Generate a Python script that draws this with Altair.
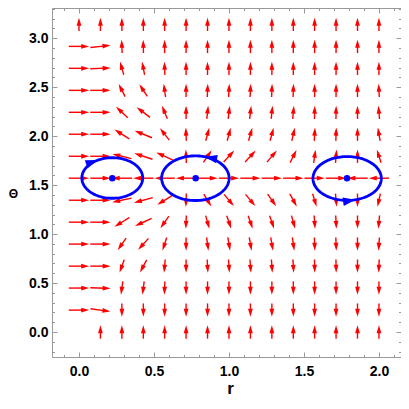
import math
import altair as alt
import pandas as pd

# ---------------- data ----------------
R_GRID = [0.0, 0.143, 0.286, 0.429, 0.571, 0.714, 0.857, 1.0,
          1.143, 1.286, 1.429, 1.571, 1.714, 1.857, 2.0]
THETA_GRID = [0.0, 0.224, 0.449, 0.673, 0.898, 1.122, 1.346, 1.571,
              1.795, 2.020, 2.244, 2.468, 2.693, 2.917, 3.142]

# on-screen arrow direction (degrees, counter-clockwise from +r), row by row from theta=0 upward
N = None
ROW_00 = [N, 90, 90, 90, 90, 90, 90, 90, 90, 90, 90, 90, 90, 90, 90]
ROW_01 = [0, 352, 270, 270, 270, 270, 270, 270, 270, 270, 270, 270, 270, 270, 270]
ROW_02 = [0, 358, 262, 263, 268, 270, 270, 270, 270, 270, 270, 270, 270, 270, 270]
ROW_03 = [0, 0, 250, 242, 265, 270, 273, 274, 274, 274, 273, 271, 271, 270, 268]
ROW_04 = [0, 0, 235, 228, 252, 270, 278, 280, 280, 280, 278, 272, 272, 270, 266]
ROW_05 = [0, 0, 212, 205, 235, 268, 286, 289, 289, 289, 286, 274, 273, 270, 265]
ROW_06 = [0, 0, 192, 195, 212, 268, 301, 310, 310, 305, 299, 287, 275, 270, 258]
ROW_07 = [0, 0, 180, 180, 180, 180, 0, 0, 0, 0, 0, 0, 0, 180, 180]
ROW_08 = [0, 0, 166, 162, 155, 92, 56, 47, 47, 50, 63, 82, 85, 90, 108]
ROW_09 = [0, 0, 148, 158, 128, 92, 75, 75, 74, 75, 77, 87, 88, 90, 100]
ROW_10 = [0, 0, 137, 143, 113, 90, 84, 83, 83, 84, 85, 89, 89, 90, 95]
ROW_11 = [0, 0, 117, 123, 98, 90, 88, 87, 87, 88, 88, 90, 90, 90, 93]
ROW_12 = [0, 2, 106, 101, 92, 90, 90, 90, 90, 90, 90, 90, 90, 90, 90]
ROW_13 = [0, 6, 92, 91, 90, 90, 90, 90, 90, 90, 90, 90, 90, 90, 90]
ROW_14 = [90, 90, 90, 90, 90, 90, 90, 90, 90, 90, 90, 90, 90, 90, 90]
ANGLE_ROWS = [ROW_00, ROW_01, ROW_02, ROW_03, ROW_04, ROW_05, ROW_06, ROW_07,
              ROW_08, ROW_09, ROW_10, ROW_11, ROW_12, ROW_13, ROW_14]

# closed orbits (blue)
ORBIT_R = [0.222, 0.776, 1.788]
ORBIT_THETA = [1.573, 1.571, 1.568]
ORBIT_RX = [0.203, 0.225, 0.228]
ORBIT_RY = [0.207, 0.228, 0.224]
ORBIT_HEAD_T = [118, 74, 284]          # parametric position of arrowhead (deg)
ORBIT_DIR = [-1, 1, 1]                  # -1 clockwise, +1 counter-clockwise
FIXED_R = [0.222, 0.778, 1.787]
FIXED_THETA = [1.571, 1.571, 1.571]

X_TICKS = [0.0, 0.5, 1.0, 1.5, 2.0]
Y_TICKS = [0.0, 0.5, 1.0, 1.5, 2.0, 2.5, 3.0]
X_MINOR = [-0.1, 0.1, 0.2, 0.3, 0.4, 0.6, 0.7, 0.8, 0.9, 1.1, 1.2, 1.3, 1.4,
           1.6, 1.7, 1.8, 1.9, 2.1]
Y_MINOR = [-0.2, -0.1, 0.1, 0.2, 0.3, 0.4, 0.6, 0.7, 0.8, 0.9, 1.1, 1.2, 1.3,
           1.4, 1.6, 1.7, 1.8, 1.9, 2.1, 2.2, 2.3, 2.4, 2.6, 2.7, 2.8, 2.9,
           3.1, 3.2, 3.3]

# ---------------- layout ----------------
W, H = 349, 349
X_DOM = [-0.18, 2.147]
Y_DOM = [-0.255, 3.309]
KX = W / (X_DOM[1] - X_DOM[0])
KY = H / (Y_DOM[1] - Y_DOM[0])
ARROW_LEN = 0.136      # arrow length in data units
HEAD_PX = 8.0
ORBIT_HEAD_PX = 12.5

RED = "#ff0000"
BLUE = "#0000ff"
GRAY = "#999999"
FONT = "Liberation Sans"

xs = alt.Scale(domain=X_DOM, nice=False, zero=False)
ys = alt.Scale(domain=Y_DOM, nice=False, zero=False)

# ---------------- arrow geometry ----------------
rows = []
for j, th in enumerate(THETA_GRID):
    for i, r in enumerate(R_GRID):
        a = ANGLE_ROWS[j][i]
        if a is None:
            continue
        ca, sa = math.cos(math.radians(a)), math.sin(math.radians(a))
        ux, uy = ca / KX, sa / KY
        n = math.hypot(ux, uy)
        vx, vy = ARROW_LEN * ux / n, ARROW_LEN * uy / n
        tipx, tipy = r + vx / 2, th + vy / 2
        rows.append(dict(
            r=r, t=th,
            x0=r - vx / 2, y0=th - vy / 2,
            x1=tipx - 0.6 * HEAD_PX * ca / KX, y1=tipy - 0.6 * HEAD_PX * sa / KY,
            hx=tipx, hy=tipy, ang=(360 - a) % 360,
        ))
arrows = pd.DataFrame(rows)

ell = []
for e in range(3):
    for k in range(0, 361, 3):
        tt = math.radians(k)
        ell.append(dict(e=e, k=k,
                        x=ORBIT_R[e] + ORBIT_RX[e] * math.cos(tt),
                        y=ORBIT_THETA[e] + ORBIT_RY[e] * math.sin(tt)))
ellipses = pd.DataFrame(ell)

heads = []
for e in range(3):
    tt = math.radians(ORBIT_HEAD_T[e])
    px = ORBIT_R[e] + ORBIT_RX[e] * math.cos(tt)
    py = ORBIT_THETA[e] + ORBIT_RY[e] * math.sin(tt)
    dx = -ORBIT_RX[e] * math.sin(tt) * KX * ORBIT_DIR[e]
    dy = ORBIT_RY[e] * math.cos(tt) * KY * ORBIT_DIR[e]
    a = math.degrees(math.atan2(dy, dx))
    heads.append(dict(x=px, y=py, ang=(360 - a) % 360))
orbit_heads = pd.DataFrame(heads)

fixed = pd.DataFrame({"x": FIXED_R, "y": FIXED_THETA})

# ---------------- axes (frame with inward ticks) ----------------
def ax(orient, values, size, labels, title=None, **kw):
    d = dict(orient=orient, values=values, tickSize=size, offset=-size,
             domain=False, grid=False, labels=labels, tickColor=GRAY,
             tickWidth=1, labelFlush=False, labelOverlap=False)
    if labels:
        d.update(format=".1f", labelFont=FONT, labelFontSize=14,
                 labelFontWeight="bold", labelColor="black")
    if title is None:
        d["title"] = None
    else:
        d["title"] = title
    d.update(kw)
    return alt.Axis(**d)

def axis_layer(xaxis, yaxis):
    return alt.Chart(arrows).mark_point(opacity=0).encode(
        x=alt.X("r:Q", scale=xs, axis=xaxis),
        y=alt.Y("t:Q", scale=ys, axis=yaxis),
    )

ax_main = axis_layer(
    ax("bottom", X_TICKS, 5, True, "r", labelPadding=7, titleFont=FONT,
       titleFontSize=17, titleFontWeight="bold", titleColor="black",
       titleX=178, titleY=41, titleAlign="center", titleBaseline="alphabetic"),
    ax("left", Y_TICKS, 5, True, "Θ", labelPadding=4, titleFont=FONT,
       titleFontSize=12, titleFontWeight="bold", titleColor="black",
       titleAngle=0, titleX=-44, titleY=185, titleAlign="center",
       titleBaseline="middle"),
)
ax_minor = axis_layer(ax("bottom", X_MINOR, 2.5, False),
                      ax("left", Y_MINOR, 2.5, False))
ax_top = axis_layer(ax("top", X_TICKS, 5, False), ax("right", Y_TICKS, 5, False))
ax_top_minor = axis_layer(ax("top", X_MINOR, 2.5, False),
                          ax("right", Y_MINOR, 2.5, False))

# ---------------- marks ----------------
shafts = alt.Chart(arrows).mark_rule(color=RED, strokeWidth=1.4).encode(
    x=alt.X("x0:Q", scale=xs, axis=None), x2="x1:Q",
    y=alt.Y("y0:Q", scale=ys, axis=None), y2="y1:Q",
)
arrow_heads = alt.Chart(arrows).mark_point(
    shape="M0,0L-1,-0.3L-1,0.3Z", filled=True, color=RED, opacity=1,
    strokeWidth=0, size=(2 * HEAD_PX) ** 2,
).encode(
    x=alt.X("hx:Q", scale=xs, axis=None),
    y=alt.Y("hy:Q", scale=ys, axis=None),
    angle=alt.Angle("ang:Q", scale=None),
)
orbit_lines = alt.Chart(ellipses).mark_line(color=BLUE, strokeWidth=2.8).encode(
    x=alt.X("x:Q", scale=xs, axis=None),
    y=alt.Y("y:Q", scale=ys, axis=None),
    detail="e:N", order="k:Q",
)
orbit_arrow = alt.Chart(orbit_heads).mark_point(
    shape="M0,0L-1,-0.34L-1,0.34Z", filled=True, color=BLUE, opacity=1,
    strokeWidth=0, size=(2 * ORBIT_HEAD_PX) ** 2,
).encode(
    x=alt.X("x:Q", scale=xs, axis=None),
    y=alt.Y("y:Q", scale=ys, axis=None),
    angle=alt.Angle("ang:Q", scale=None),
)
dots = alt.Chart(fixed).mark_point(
    shape="circle", filled=True, color=BLUE, opacity=1, size=42, strokeWidth=0,
).encode(
    x=alt.X("x:Q", scale=xs, axis=None),
    y=alt.Y("y:Q", scale=ys, axis=None),
)

chart = alt.layer(
    ax_main, ax_minor, ax_top, ax_top_minor,
    shafts, arrow_heads, orbit_lines, orbit_arrow, dots,
).resolve_axis(x="independent", y="independent").properties(
    width=W, height=H,
    autosize=alt.AutoSizeParams(type="none"),
    padding={"left": 44, "top": 0, "right": 0, "bottom": 39},
).configure_view(stroke=GRAY, strokeWidth=1)

chart.save("out.html", embed_options={"renderer": "svg", "actions": False})
